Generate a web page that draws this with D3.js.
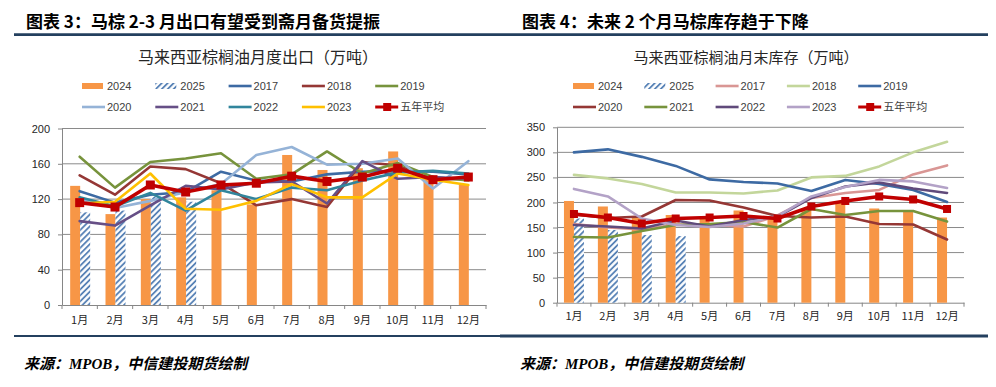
<!DOCTYPE html>
<html><head><meta charset="utf-8">
<script src="https://cdn.jsdelivr.net/npm/d3@7/dist/d3.min.js"></script>
<style>html,body{margin:0;padding:0;background:#fff;}svg{display:block}</style>
</head><body>
<svg id="c" width="996" height="387"></svg>
<script>
// ---------- data ----------
const months = ['1月','2月','3月','4月','5月','6月','7月','8月','9月','10月','11月','12月'];

// Chart 3: monthly exports (万吨)
const exportTicks = [0, 40, 80, 120, 160, 200];
const exp2024 = [135, 103, 120, 122, 130, 114, 170, 153, 155, 174, 147, 137];
const exp2025 = [105, 107, 123, 117];
const exp2017 = [129, 116, 125, 128, 151, 141, 140, 148, 151, 152, 151, 148];
const exp2018 = [147, 125, 157, 154, 138, 113, 120, 111, 162, 158, 142, 143];
const exp2019 = [168, 133, 162, 166, 172, 143, 148, 174, 149, 161, 145, 141];
const exp2020 = [120, 110, 118, 128, 137, 170, 179, 159, 160, 166, 132, 163];
const exp2021 = [95, 90, 113, 135, 131, 139, 140, 115, 163, 143, 145, 143];
const exp2022 = [122, 112, 127, 107, 130, 120, 133, 130, 141, 150, 152, 149];
const exp2023 = [115, 117, 149, 109, 108, 118, 137, 122, 122, 149, 142, 136];
const expAvg  = [116, 111, 136, 128, 136, 138, 146, 140, 145, 155, 142, 145];

// Chart 4: month-end stocks (万吨)
const stockTicks = [0, 50, 100, 150, 200, 250, 300, 350];
const inv2024 = [203, 192, 172, 175, 170, 184, 172, 188, 200, 188, 184, 170];
const inv2025 = [168, 145, 135, 133];
const inv2017 = [157, 150, 146, 156, 155, 152, 174, 209, 219, 225, 256, 274];
const inv2018 = [255, 248, 237, 220, 220, 218, 224, 250, 253, 272, 300, 321];
const inv2019 = [300, 306, 291, 273, 246, 241, 238, 223, 245, 237, 225, 201];
const inv2020 = [176, 169, 172, 205, 204, 190, 173, 170, 172, 157, 156, 126];
const inv2021 = [131, 130, 143, 155, 157, 161, 150, 187, 175, 183, 183, 162];
const inv2022 = [155, 152, 148, 164, 152, 165, 172, 209, 232, 240, 228, 219];
const inv2023 = [227, 212, 168, 155, 151, 158, 173, 212, 231, 245, 242, 229];
const invAvg  = [177, 170, 158, 168, 170, 173, 168, 192, 203, 212, 206, 187];

// ---------- drawing ----------
const svg = d3.select('#c');
svg.append('rect').attr('width', 996).attr('height', 387).attr('fill', '#fff');
const defs = svg.append('defs');
const pat = defs.append('pattern').attr('id', 'hatch').attr('patternUnits', 'userSpaceOnUse')
  .attr('width', 4.2).attr('height', 4.2).attr('patternTransform', 'rotate(45)');
pat.append('rect').attr('width', 4.2).attr('height', 4.2).attr('fill', '#fff');
pat.append('line').attr('x1', 1).attr('y1', 0).attr('x2', 1).attr('y2', 4.2)
  .attr('stroke', '#4a78b0').attr('stroke-width', 1.7);

const CJK = "'Noto Sans CJK SC', 'Noto Sans', sans-serif";
const NUM = "'Liberation Sans', Arial, sans-serif";
const ORANGE = '#f79646';
const AVG = '#c00000';

function drawChart(o) {
  const g = svg.append('g');
  // heading
  g.append('text').attr('x', o.headX).attr('y', 28).text(o.heading)
    .attr('font-family', CJK).attr('font-weight', 700).attr('font-size', 17).attr('fill', '#000');
  g.append('line').attr('x1', o.ruleX0).attr('x2', o.ruleX1).attr('y1', 34.7).attr('y2', 34.7)
    .attr('stroke', '#24405f').attr('stroke-width', 2.8);
  // chart title
  g.append('text').attr('x', o.titleX).attr('y', 63).attr('text-anchor', 'middle').text(o.title)
    .attr('font-family', CJK).attr('font-size', o.titleSize).attr('fill', '#262626');

  const x = d3.scaleBand().domain(months).range([o.x0, o.x1]);
  const y = d3.scaleLinear().domain([0, o.ymax]).range([o.y0, o.y1]);

  // gridlines
  g.append('g').selectAll('line').data(o.ticks.slice(1)).join('line')
    .attr('x1', o.x0).attr('x2', o.x1).attr('y1', d => y(d)).attr('y2', d => y(d))
    .attr('stroke', '#8a8a8a').attr('stroke-width', 1);

  // y axis
  const ya = g.append('g').attr('transform', `translate(${o.x0},0)`)
    .call(d3.axisLeft(y).tickValues(o.ticks).tickSize(4).tickPadding(8).tickSizeOuter(0));
  ya.selectAll('path,line').attr('stroke', '#868686');
  ya.selectAll('text').attr('font-family', NUM).attr('font-size', 11).attr('fill', '#262626');

  // x axis
  const xa = g.append('g').attr('transform', `translate(0,${o.y0})`)
    .call(d3.axisBottom(x).tickSize(0).tickPadding(o.xPad));
  xa.select('path').attr('stroke', '#868686');
  xa.selectAll('text').attr('font-family', CJK).attr('font-size', 11).attr('fill', '#262626');
  const bounds = months.map(m => x(m)).concat([o.x1]);
  g.append('g').selectAll('line').data(bounds).join('line')
    .attr('x1', d => d).attr('x2', d => d).attr('y1', o.y0).attr('y2', o.y0 + 4)
    .attr('stroke', '#868686');

  const bw = 10;
  const cx = m => x(m) + x.bandwidth() / 2;
  // bars 2024
  g.append('g').selectAll('rect').data(o.bar1).join('rect')
    .attr('x', (d, i) => cx(months[i]) - bw + o.barShift).attr('width', bw)
    .attr('y', d => y(d)).attr('height', d => y(0) - y(d)).attr('fill', ORANGE);
  // bars 2025 hatched
  g.append('g').selectAll('rect').data(o.bar2).join('rect')
    .attr('x', (d, i) => cx(months[i]) + o.barShift).attr('width', bw)
    .attr('y', d => y(d)).attr('height', d => y(0) - y(d)).attr('fill', 'url(#hatch)');

  // lines
  const line = d3.line().x((d, i) => cx(months[i])).y(d => y(d));
  o.series.forEach(s => {
    g.append('path').datum(s.data).attr('d', line).attr('fill', 'none')
      .attr('stroke', s.color).attr('stroke-width', 2.6).attr('stroke-linejoin', 'round').attr('stroke-linecap', 'round');
  });
  g.append('path').datum(o.avg).attr('d', line).attr('fill', 'none')
    .attr('stroke', AVG).attr('stroke-width', 3.6).attr('stroke-linejoin', 'round');
  g.append('g').selectAll('rect').data(o.avg).join('rect')
    .attr('x', (d, i) => cx(months[i]) - o.mk / 2).attr('y', d => y(d) - o.mk / 2)
    .attr('width', o.mk).attr('height', o.mk).attr('fill', AVG);

  // legend
  const items = [{name: '2024', type: 'bar'}, {name: '2025', type: 'hatch'}]
    .concat(o.series.map(s => ({name: s.name, type: 'line', color: s.color})))
    .concat([{name: '五年平均', type: 'avg'}]);
  items.forEach((it, i) => {
    const row = Math.floor(i / 5), col = i % 5;
    const lx = o.legX + col * o.legStep, ly = 86 + row * 21;
    const lg = g.append('g');
    if (it.type === 'bar') {
      lg.append('rect').attr('x', lx).attr('y', ly - 3).attr('width', 21).attr('height', 6).attr('fill', ORANGE);
    } else if (it.type === 'hatch') {
      lg.append('rect').attr('x', lx).attr('y', ly - 3).attr('width', 21).attr('height', 6).attr('fill', 'url(#hatch)');
    } else if (it.type === 'line') {
      lg.append('line').attr('x1', lx).attr('x2', lx + 23).attr('y1', ly).attr('y2', ly)
        .attr('stroke', it.color).attr('stroke-width', 2.6);
    } else {
      lg.append('line').attr('x1', lx).attr('x2', lx + 23).attr('y1', ly).attr('y2', ly)
        .attr('stroke', AVG).attr('stroke-width', 3);
      lg.append('rect').attr('x', lx + 8).attr('y', ly - 4).attr('width', 8).attr('height', 8).attr('fill', AVG);
    }
    lg.append('text').attr('x', lx + 25).attr('y', ly + 4).text(it.name)
      .attr('font-family', it.type === 'avg' ? CJK : NUM).attr('font-size', 11).attr('fill', '#404040');
  });

  // bottom rule & source
  g.append('line').attr('x1', o.ruleX0).attr('x2', o.ruleX1).attr('y1', 336).attr('y2', 336)
    .attr('stroke', '#24405f').attr('stroke-width', o.botW);
  const src = g.append('text').attr('x', o.headX - 2).attr('y', 369)
    .attr('font-family', CJK).attr('font-weight', 700).attr('font-style', 'italic').attr('font-size', 15).attr('fill', '#000');
  src.append('tspan').text('来源：');
  src.append('tspan').attr('font-family', "'Liberation Serif', serif").text('MPOB');
  src.append('tspan').text('，中信建投期货绘制');
}

drawChart({
  heading: '图表 3：马棕 2-3 月出口有望受到斋月备货提振', headX: 26, ruleX0: 14, ruleX1: 500,
  title: '马来西亚棕榈油月度出口（万吨）', titleX: 258, titleSize: 16,
  x0: 62, x1: 486, y0: 305, y1: 128.5, ymax: 200, ticks: exportTicks, xPad: 11, barShift: 0.5,
  bar1: exp2024, bar2: exp2025,
  series: [
    {name: '2017', data: exp2017, color: '#3d6aa3'},
    {name: '2018', data: exp2018, color: '#953735'},
    {name: '2019', data: exp2019, color: '#77933c'},
    {name: '2020', data: exp2020, color: '#95b3d7'},
    {name: '2021', data: exp2021, color: '#664f86'},
    {name: '2022', data: exp2022, color: '#31859c'},
    {name: '2023', data: exp2023, color: '#ffc000'}
  ],
  avg: expAvg, mk: 9, legX: 82, legStep: 73.3, botW: 2.2
});

drawChart({
  heading: '图表 4：未来 2 个月马棕库存趋于下降', headX: 522, ruleX0: 500, ruleX1: 988,
  title: '马来西亚棕榈油月末库存（万吨）', titleX: 746, titleSize: 15,
  x0: 557, x1: 964, y0: 302.7, y1: 127.3, ymax: 350, ticks: stockTicks, xPad: 9.5, barShift: 0,
  bar1: inv2024, bar2: inv2025,
  series: [
    {name: '2017', data: inv2017, color: '#d99694'},
    {name: '2018', data: inv2018, color: '#c3d69b'},
    {name: '2019', data: inv2019, color: '#3d6aa3'},
    {name: '2020', data: inv2020, color: '#953735'},
    {name: '2021', data: inv2021, color: '#77933c'},
    {name: '2022', data: inv2022, color: '#604a7b'},
    {name: '2023', data: inv2023, color: '#b3a2c7'}
  ],
  avg: invAvg, mk: 8, legX: 573, legStep: 71.3, botW: 3
});
</script>
</body></html>
